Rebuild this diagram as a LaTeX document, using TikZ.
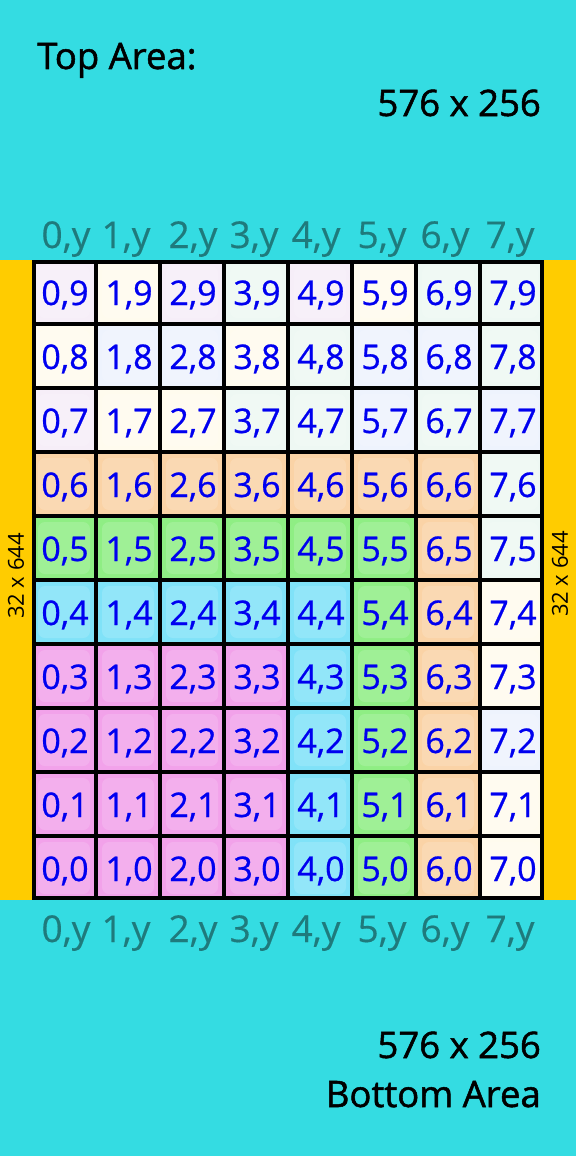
\documentclass[tikz,border=0pt]{standalone}
\usepackage{fontspec}
\setmainfont{Open Sans}
\newfontfamily\titlefont{Open Sans}[FakeBold=1.4]
\newfontfamily\cellfont{Open Sans}[FakeBold=0.7]
\newfontfamily\colfont{Open Sans}[FakeBold=0.4]
\definecolor{bgcyan}{HTML}{34DCE2}
\definecolor{baryellow}{HTML}{FFCC00}
\definecolor{peach}{HTML}{FAD3A6}
\definecolor{lgreen}{HTML}{8FEE84}
\definecolor{lblue}{HTML}{80E2F8}
\definecolor{lpink}{HTML}{F2A2EA}
\definecolor{tlav}{HTML}{F6EEF8}
\definecolor{tcream}{HTML}{FFFBEE}
\definecolor{tmint}{HTML}{EEF8F3}
\definecolor{tsky}{HTML}{EEF3FD}
\definecolor{lbltxt}{HTML}{0000F0}
\definecolor{coltxt}{HTML}{1F7A7C}
\begin{document}
\begin{tikzpicture}[x=1pt,y=-1pt,
  celltxt/.style={anchor=base,text=lbltxt,font=\cellfont\fontsize{34}{40}\selectfont,inner sep=0pt},
  coltxtstyle/.style={anchor=base,text=coltxt,font=\colfont\fontsize{37}{44}\selectfont,inner sep=0pt},
  titletxt/.style={inner sep=0pt,font=\titlefont\fontsize{36.5}{43}\selectfont,text=black},
  sidetxt/.style={rotate=90,inner sep=0pt,font=\fontsize{22}{26}\selectfont,text=black},
  gridline/.style={line width=4pt,draw=black}]
\useasboundingbox (0,0) rectangle (576,1156);
\fill[bgcyan] (0,0) rectangle (576,1156);
\fill[baryellow] (0,260) rectangle (32,900);
\fill[baryellow] (544,260) rectangle (576,900);
% cell colours: per row from 9 down to 0
\foreach \r/\cols in {
  9/{tlav,tcream,tlav,tmint,tlav,tcream,tmint,tmint},
  8/{tcream,tsky,tsky,tcream,tmint,tsky,tsky,tmint},
  7/{tlav,tcream,tcream,tmint,tmint,tsky,tmint,tsky},
  6/{peach,peach,peach,peach,peach,peach,peach,tmint},
  5/{lgreen,lgreen,lgreen,lgreen,lgreen,lgreen,peach,tmint},
  4/{lblue,lblue,lblue,lblue,lblue,lgreen,peach,tcream},
  3/{lpink,lpink,lpink,lpink,lblue,lgreen,peach,tcream},
  2/{lpink,lpink,lpink,lpink,lblue,lgreen,peach,tsky},
  1/{lpink,lpink,lpink,lpink,lblue,lgreen,peach,tcream},
  0/{lpink,lpink,lpink,lpink,lblue,lgreen,peach,tcream}}{
  \foreach \c [count=\i from 0] in \cols {
    \pgfmathsetmacro{\xl}{32+64*\i}
    \pgfmathsetmacro{\yt}{260+64*(9-\r)}
    \fill[\c] (\xl,\yt) rectangle ++(64,64);
    \fill[white,opacity=0.15,rounded corners=7pt] (\xl+6,\yt+6) rectangle ++(52,52);
    \node[celltxt] (c-\i-\r) at (\xl+33,\yt+45) {\i,\r};
  }
}
% grid
\draw[gridline] (34,262) rectangle (542,898);
\foreach \i in {1,...,7}{\draw[gridline] (32+64*\i,260) -- (32+64*\i,900);}
\foreach \j in {1,...,9}{\draw[gridline] (32,260+64*\j) -- (544,260+64*\j);}
% column labels
\foreach \x [count=\i from 0] in {66,126,193,254,316,382,445,510}{
  \node[coltxtstyle] (top-\i) at (\x,248) {\i,y};
  \node[coltxtstyle] (bot-\i) at (\x,942) {\i,y};
}
% titles
\node[titletxt,anchor=base west] (toparea) at (37,69) {Top Area:};
\node[titletxt,anchor=base east] (topsize) at (541,116) {576 x 256};
\node[titletxt,anchor=base east] (botsize) at (541,1058) {576 x 256};
\node[titletxt,anchor=base east] (botarea) at (541,1107) {Bottom Area};
% side labels
\node[sidetxt] (leftside) at (16,576) {32 x 644};
\node[sidetxt] (rightside) at (560,574) {32 x 644};
\end{tikzpicture}
\end{document}
